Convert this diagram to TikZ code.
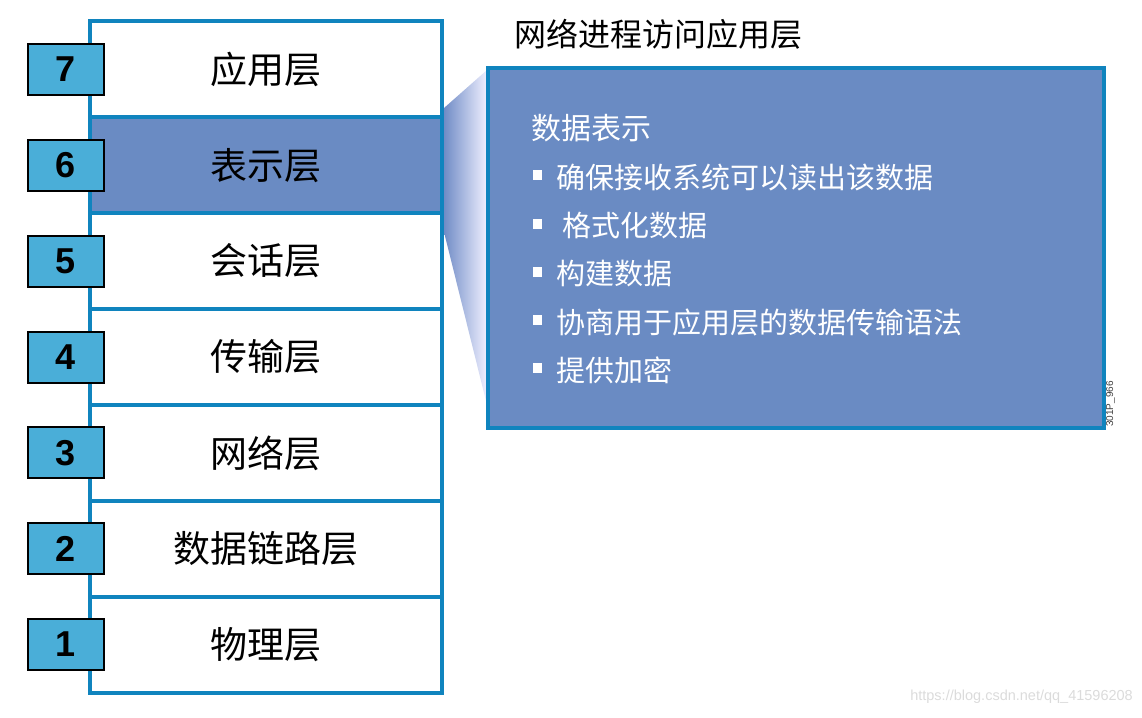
\documentclass[tikz,border=0pt]{standalone}
\usepackage{fontspec}
\setmainfont{Liberation Sans}
\newfontfamily\cjk{Noto Sans CJK SC}
\definecolor{edgeblue}{RGB}{16,132,190}
\definecolor{panelblue}{RGB}{106,139,195}
\definecolor{numblue}{RGB}{74,174,216}
\definecolor{funnelblue}{RGB}{112,140,198}
\begin{document}
\begin{tikzpicture}[x=1pt,y=-1pt,
  layer/.style={draw=edgeblue, line width=4pt, minimum width=352pt, minimum height=95.86pt, inner sep=0pt,
    font=\cjk\fontsize{37}{42}\selectfont},
  numbox/.style={draw=black, line width=2pt, fill=numblue, minimum width=76pt, minimum height=51pt, inner sep=0pt,
    font=\fontsize{36}{40}\selectfont\bfseries},
  panelbox/.style={draw=edgeblue, line width=4pt, fill=panelblue, minimum width=616pt, minimum height=360pt, inner sep=0pt},
  itemtext/.style={anchor=west, inner sep=0pt, text=white, font=\cjk\fontsize{29}{34}\selectfont},
  bulletsq/.style={fill=white, minimum width=9.5pt, minimum height=9.5pt, inner sep=0pt}]
\useasboundingbox (0,0) rectangle (1142,717);
% funnel shading
\coordinate (f1) at (444,108);
\coordinate (f2) at (487,70);
\coordinate (f3) at (487,405);
\coordinate (f4) at (444,232);
\shade[left color=funnelblue, right color=white!94!blue] (f1) -- (f2) -- (f3) -- (f4) -- cycle;
% layers
\node[layer] (L7) at (266,69.4) {应用层};
\node[layer, fill=panelblue] (L6) at (266,165.3) {表示层};
\node[layer] (L5) at (266,261.1) {会话层};
\node[layer] (L4) at (266,357.0) {传输层};
\node[layer] (L3) at (266,452.9) {网络层};
\node[layer] (L2) at (266,548.7) {数据链路层};
\node[layer] (L1) at (266,644.6) {物理层};
% numbers
\node[numbox] (N7) at (66,69.4) {7};
\node[numbox] (N6) at (66,165.3) {6};
\node[numbox] (N5) at (66,261.1) {5};
\node[numbox] (N4) at (66,357.0) {4};
\node[numbox] (N3) at (66,452.9) {3};
\node[numbox] (N2) at (66,548.7) {2};
\node[numbox] (N1) at (66,644.6) {1};
% title
\node[anchor=west, inner sep=0pt, font=\cjk\fontsize{32}{36}\selectfont] (title) at (514,34.5) {网络进程访问应用层};
% panel
\node[panelbox] (panel) at (796,248) {};
\node[itemtext, font=\cjk\fontsize{30}{34}\selectfont] (head) at (531,128) {数据表示};
\node[bulletsq] (b1) at (537.5,175) {};
\node[itemtext] (t1) at (556,177) {确保接收系统可以读出该数据};
\node[bulletsq] (b2) at (537.5,224) {};
\node[itemtext] (t2) at (562,226) {格式化数据};
\node[bulletsq] (b3) at (537.5,272) {};
\node[itemtext] (t3) at (556,274) {构建数据};
\node[bulletsq] (b4) at (537.5,320) {};
\node[itemtext] (t4) at (556,322) {协商用于应用层的数据传输语法};
\node[bulletsq] (b5) at (537.5,368) {};
\node[itemtext] (t5) at (556,370) {提供加密};
\node[rotate=90, inner sep=0pt, text=black!75, font=\fontsize{10}{12}\selectfont] (code) at (1110.5,404) {301P\_966};
% watermark
\node[anchor=east, inner sep=0pt, text=black!14, font=\fontsize{14.5}{17}\selectfont] (wm) at (1133,697) {https://blog.csdn.net/qq\_41596208};
\end{tikzpicture}
\end{document}
